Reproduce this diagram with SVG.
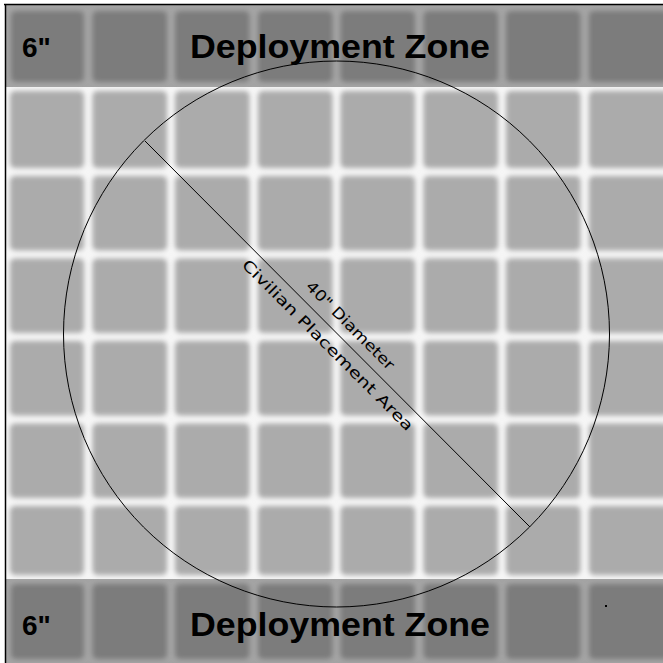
<svg xmlns="http://www.w3.org/2000/svg" width="663" height="663" viewBox="0 0 663 663">
  <defs>
    <filter id="soft" filterUnits="userSpaceOnUse" x="-20" y="-20" width="720" height="720">
      <feGaussianBlur stdDeviation="2.6"/>
    </filter>
    <clipPath id="topClip"><rect x="6" y="5" width="660" height="82"/></clipPath>
    <clipPath id="botClip"><rect x="6" y="579" width="660" height="90"/></clipPath>
    <clipPath id="midClip"><rect x="6" y="87" width="660" height="492"/></clipPath>
  </defs>
  <style>
    .mid { fill: #ababab; }
    .band { fill: #7b7b7b; }
    .zone { font-family: "Liberation Sans", Arial, sans-serif; font-weight: bold; font-size: 34px; fill: #000; }
    .inch { font-family: "Liberation Sans", Arial, sans-serif; font-weight: bold; font-size: 28px; fill: #000; }
    .diag { font-family: "DejaVu Sans", "Liberation Sans", sans-serif; font-size: 15px; fill: #000; }
    .ink { fill: none; stroke: #000; stroke-width: 1; }
  </style>

  <rect x="0" y="0" width="663" height="663" fill="#ffffff"/>

  <g id="table-field" clip-path="url(#midClip)">
    <rect x="6" y="87" width="660" height="492" fill="#f6f6f6"/>
    <g filter="url(#soft)">
      <!-- rows: 87,172,254.5,337,419.5,502,579 ; cols: 5.5,88.25,171,253.75,336.5,419.25,502,584.75,667.5 -->
      <g id="row1">
        <rect class="mid" x="10" y="91" width="74" height="77" rx="5"/>
        <rect class="mid" x="92.5" y="91" width="74.5" height="77" rx="5"/>
        <rect class="mid" x="175" y="91" width="74.5" height="77" rx="5"/>
        <rect class="mid" x="258" y="91" width="74.5" height="77" rx="5"/>
        <rect class="mid" x="340.5" y="91" width="74.5" height="77" rx="5"/>
        <rect class="mid" x="423.5" y="91" width="74.5" height="77" rx="5"/>
        <rect class="mid" x="506" y="91" width="74.5" height="77" rx="5"/>
        <rect class="mid" x="589" y="91" width="80" height="77" rx="5"/>
      </g>
      <g id="row2">
        <rect class="mid" x="10" y="176" width="74" height="74.5" rx="5"/>
        <rect class="mid" x="92.5" y="176" width="74.5" height="74.5" rx="5"/>
        <rect class="mid" x="175" y="176" width="74.5" height="74.5" rx="5"/>
        <rect class="mid" x="258" y="176" width="74.5" height="74.5" rx="5"/>
        <rect class="mid" x="340.5" y="176" width="74.5" height="74.5" rx="5"/>
        <rect class="mid" x="423.5" y="176" width="74.5" height="74.5" rx="5"/>
        <rect class="mid" x="506" y="176" width="74.5" height="74.5" rx="5"/>
        <rect class="mid" x="589" y="176" width="80" height="74.5" rx="5"/>
      </g>
      <g id="row3">
        <rect class="mid" x="10" y="258.5" width="74" height="74.5" rx="5"/>
        <rect class="mid" x="92.5" y="258.5" width="74.5" height="74.5" rx="5"/>
        <rect class="mid" x="175" y="258.5" width="74.5" height="74.5" rx="5"/>
        <rect class="mid" x="258" y="258.5" width="74.5" height="74.5" rx="5"/>
        <rect class="mid" x="340.5" y="258.5" width="74.5" height="74.5" rx="5"/>
        <rect class="mid" x="423.5" y="258.5" width="74.5" height="74.5" rx="5"/>
        <rect class="mid" x="506" y="258.5" width="74.5" height="74.5" rx="5"/>
        <rect class="mid" x="589" y="258.5" width="80" height="74.5" rx="5"/>
      </g>
      <g id="row4">
        <rect class="mid" x="10" y="341" width="74" height="74.5" rx="5"/>
        <rect class="mid" x="92.5" y="341" width="74.5" height="74.5" rx="5"/>
        <rect class="mid" x="175" y="341" width="74.5" height="74.5" rx="5"/>
        <rect class="mid" x="258" y="341" width="74.5" height="74.5" rx="5"/>
        <rect class="mid" x="340.5" y="341" width="74.5" height="74.5" rx="5"/>
        <rect class="mid" x="423.5" y="341" width="74.5" height="74.5" rx="5"/>
        <rect class="mid" x="506" y="341" width="74.5" height="74.5" rx="5"/>
        <rect class="mid" x="589" y="341" width="80" height="74.5" rx="5"/>
      </g>
      <g id="row5">
        <rect class="mid" x="10" y="423.5" width="74" height="74.5" rx="5"/>
        <rect class="mid" x="92.5" y="423.5" width="74.5" height="74.5" rx="5"/>
        <rect class="mid" x="175" y="423.5" width="74.5" height="74.5" rx="5"/>
        <rect class="mid" x="258" y="423.5" width="74.5" height="74.5" rx="5"/>
        <rect class="mid" x="340.5" y="423.5" width="74.5" height="74.5" rx="5"/>
        <rect class="mid" x="423.5" y="423.5" width="74.5" height="74.5" rx="5"/>
        <rect class="mid" x="506" y="423.5" width="74.5" height="74.5" rx="5"/>
        <rect class="mid" x="589" y="423.5" width="80" height="74.5" rx="5"/>
      </g>
      <g id="row6">
        <rect class="mid" x="10" y="506" width="74" height="69" rx="5"/>
        <rect class="mid" x="92.5" y="506" width="74.5" height="69" rx="5"/>
        <rect class="mid" x="175" y="506" width="74.5" height="69" rx="5"/>
        <rect class="mid" x="258" y="506" width="74.5" height="69" rx="5"/>
        <rect class="mid" x="340.5" y="506" width="74.5" height="69" rx="5"/>
        <rect class="mid" x="423.5" y="506" width="74.5" height="69" rx="5"/>
        <rect class="mid" x="506" y="506" width="74.5" height="69" rx="5"/>
        <rect class="mid" x="589" y="506" width="80" height="69" rx="5"/>
      </g>
    </g>
  </g>

  <g id="top-deployment-zone">
    <g clip-path="url(#topClip)">
      <rect x="6" y="5" width="660" height="82" fill="#a4a4a4"/>
      <g filter="url(#soft)">
        <rect class="band" x="11" y="11" width="73" height="71" rx="5"/>
        <rect class="band" x="92.5" y="11" width="74.5" height="71" rx="5"/>
        <rect class="band" x="175" y="11" width="74.5" height="71" rx="5"/>
        <rect class="band" x="258" y="11" width="74.5" height="71" rx="5"/>
        <rect class="band" x="340.5" y="11" width="74.5" height="71" rx="5"/>
        <rect class="band" x="423.5" y="11" width="74.5" height="71" rx="5"/>
        <rect class="band" x="506" y="11" width="74.5" height="71" rx="5"/>
        <rect class="band" x="589" y="11" width="80" height="71" rx="5"/>
      </g>
    </g>
    <text class="inch" x="22" y="57">6"</text>
    <text class="zone" x="340" y="58" text-anchor="middle" textLength="300" lengthAdjust="spacingAndGlyphs">Deployment Zone</text>
  </g>

  <g id="bottom-deployment-zone">
    <g clip-path="url(#botClip)">
      <rect x="6" y="579" width="660" height="90" fill="#a4a4a4"/>
      <g filter="url(#soft)">
        <rect class="band" x="11" y="584" width="73" height="75" rx="5"/>
        <rect class="band" x="92.5" y="584" width="74.5" height="75" rx="5"/>
        <rect class="band" x="175" y="584" width="74.5" height="75" rx="5"/>
        <rect class="band" x="258" y="584" width="74.5" height="75" rx="5"/>
        <rect class="band" x="340.5" y="584" width="74.5" height="75" rx="5"/>
        <rect class="band" x="423.5" y="584" width="74.5" height="75" rx="5"/>
        <rect class="band" x="506" y="584" width="74.5" height="75" rx="5"/>
        <rect class="band" x="589" y="584" width="80" height="75" rx="5"/>
      </g>
    </g>
    <text class="inch" x="22" y="635">6"</text>
    <text class="zone" x="340" y="636" text-anchor="middle" textLength="300" lengthAdjust="spacingAndGlyphs">Deployment Zone</text>
  </g>

  <g id="frame">
    <line x1="4" y1="4.5" x2="663" y2="4.5" stroke="#000" stroke-width="1.5"/>
    <line x1="5.5" y1="4" x2="5.5" y2="663" stroke="#000" stroke-width="1.5"/>
  </g>

  <g id="placement-area">
    <circle class="ink" cx="336.5" cy="334" r="273"/>
    <line class="ink" x1="145" y1="141" x2="530" y2="527"/>
    <g transform="translate(337.5,334) rotate(45)">
      <text class="diag" x="3" y="-10" text-anchor="middle" textLength="118" lengthAdjust="spacingAndGlyphs">40" Diameter</text>
      <text class="diag" x="1" y="20" text-anchor="middle" textLength="235" lengthAdjust="spacingAndGlyphs">Civilian Placement Area</text>
    </g>
    <rect x="605" y="605" width="2" height="2" fill="#000"/>
  </g>
</svg>
